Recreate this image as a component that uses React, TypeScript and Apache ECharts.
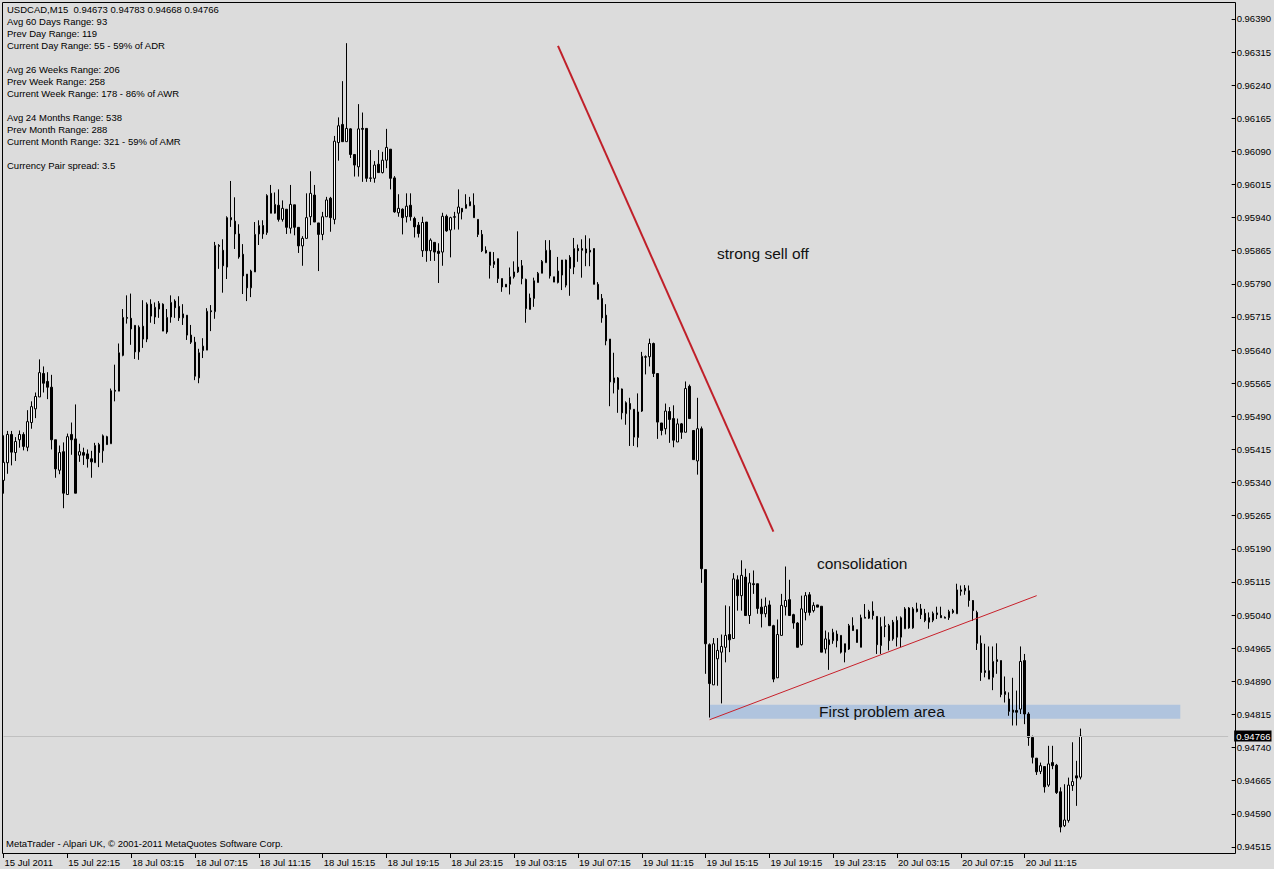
import React, { useEffect, useRef } from "react";
import * as echarts from "echarts";

// ---- data (USDCAD M15), [open, high, low, close] ----
const candles: number[][] = [
  [0.95345, 0.95447, 0.95315, 0.95386], [0.95385, 0.95457, 0.9536, 0.95449], [0.95449, 0.95457, 0.95379, 0.95409],
  [0.95408, 0.95443, 0.95389, 0.95433], [0.95437, 0.95458, 0.95419, 0.95449], [0.95449, 0.95454, 0.95413, 0.95422],
  [0.9542, 0.95504, 0.95411, 0.95478], [0.95476, 0.95524, 0.95462, 0.95512], [0.95507, 0.95544, 0.95486, 0.95535],
  [0.95534, 0.95619, 0.95534, 0.95589], [0.95587, 0.95603, 0.95544, 0.95565], [0.95569, 0.9559, 0.95529, 0.95556],
  [0.95556, 0.95584, 0.95415, 0.95437], [0.95437, 0.95437, 0.95351, 0.95371], [0.95368, 0.95424, 0.95359, 0.95408],
  [0.9541, 0.95431, 0.95282, 0.95316], [0.95313, 0.95451, 0.95313, 0.95444], [0.95449, 0.95476, 0.95403, 0.95437],
  [0.95439, 0.95517, 0.95316, 0.95316], [0.95402, 0.95428, 0.95387, 0.9541], [0.95408, 0.95419, 0.9538, 0.95402],
  [0.95405, 0.95415, 0.95374, 0.95394], [0.95394, 0.95412, 0.95351, 0.95387], [0.95385, 0.9543, 0.95385, 0.95424],
  [0.95426, 0.9543, 0.95375, 0.95408], [0.95412, 0.95449, 0.95385, 0.95446], [0.95444, 0.95446, 0.95426, 0.95426],
  [0.95428, 0.95553, 0.95428, 0.95548], [0.95549, 0.95607, 0.95524, 0.95547], [0.95547, 0.95655, 0.95547, 0.95634],
  [0.95628, 0.95733, 0.95626, 0.95714], [0.95714, 0.95764, 0.957, 0.95712], [0.95712, 0.95768, 0.95652, 0.95688],
  [0.95696, 0.95696, 0.9562, 0.95636], [0.95636, 0.95696, 0.95618, 0.95692], [0.95694, 0.95753, 0.95645, 0.95665],
  [0.95665, 0.95748, 0.95658, 0.95744], [0.95744, 0.95755, 0.95702, 0.95717], [0.95715, 0.95748, 0.95699, 0.95737],
  [0.95733, 0.95751, 0.95713, 0.95746], [0.95744, 0.95746, 0.95683, 0.95683], [0.95681, 0.95733, 0.95677, 0.95714],
  [0.95715, 0.95764, 0.95702, 0.95748], [0.95751, 0.95755, 0.95713, 0.95736], [0.95739, 0.95762, 0.95706, 0.95713],
  [0.95713, 0.95744, 0.95697, 0.95722], [0.95719, 0.95719, 0.95663, 0.95674], [0.95674, 0.95697, 0.95654, 0.95658],
  [0.95658, 0.9567, 0.95572, 0.95581], [0.95577, 0.95643, 0.95565, 0.95634], [0.95639, 0.95667, 0.95622, 0.95649],
  [0.9564, 0.95735, 0.9564, 0.95728], [0.95729, 0.95742, 0.95683, 0.95727], [0.95727, 0.95885, 0.95711, 0.95877],
  [0.95877, 0.9588, 0.95824, 0.95875], [0.95866, 0.95891, 0.9577, 0.95831], [0.95828, 0.95943, 0.95801, 0.9594],
  [0.9594, 0.96023, 0.95919, 0.95935], [0.95932, 0.95986, 0.95869, 0.95903], [0.95903, 0.95925, 0.95847, 0.95851],
  [0.95857, 0.9588, 0.95767, 0.95808], [0.95812, 0.95812, 0.95751, 0.95781], [0.95781, 0.95822, 0.9576, 0.95819],
  [0.95817, 0.9593, 0.95817, 0.95902], [0.95903, 0.95934, 0.95878, 0.95922], [0.95922, 0.95934, 0.95892, 0.95903],
  [0.95906, 0.95993, 0.95901, 0.9599], [0.95995, 0.96014, 0.9595, 0.9595], [0.9595, 0.95997, 0.95949, 0.9597],
  [0.95968, 0.96004, 0.95931, 0.95936], [0.95936, 0.95979, 0.95931, 0.95961], [0.95959, 0.95959, 0.95903, 0.95918],
  [0.95916, 0.96014, 0.95904, 0.9597], [0.95969, 0.95969, 0.959, 0.95918], [0.95918, 0.95918, 0.9586, 0.95876],
  [0.95876, 0.95898, 0.95831, 0.95893], [0.95893, 0.95995, 0.95893, 0.9594], [0.95942, 0.96045, 0.95923, 0.95995],
  [0.95991, 0.96014, 0.9593, 0.9593], [0.95928, 0.95928, 0.95819, 0.95902], [0.95902, 0.95953, 0.95889, 0.95942],
  [0.95942, 0.95987, 0.95942, 0.9598], [0.95984, 0.95987, 0.95908, 0.9594], [0.95936, 0.96125, 0.95925, 0.96113],
  [0.9611, 0.96167, 0.96069, 0.96148], [0.96151, 0.96249, 0.96112, 0.96112], [0.96112, 0.96335, 0.96112, 0.96142],
  [0.96141, 0.96142, 0.96075, 0.96083], [0.96083, 0.96083, 0.96033, 0.96059], [0.96055, 0.96197, 0.96033, 0.96141],
  [0.96142, 0.96178, 0.96021, 0.9614], [0.96142, 0.96142, 0.96021, 0.96029], [0.9603, 0.96093, 0.96021, 0.96029],
  [0.96029, 0.96068, 0.96019, 0.96059], [0.96061, 0.96093, 0.96042, 0.96042], [0.96042, 0.96089, 0.9604, 0.9607],
  [0.9607, 0.96141, 0.96052, 0.96099], [0.96095, 0.96095, 0.96004, 0.96029], [0.9603, 0.96034, 0.95951, 0.95953],
  [0.95951, 0.95993, 0.95942, 0.95961], [0.95959, 0.95961, 0.95902, 0.9594], [0.95942, 0.95995, 0.95929, 0.95966],
  [0.95968, 0.95995, 0.95933, 0.95942], [0.95938, 0.95942, 0.95895, 0.95919], [0.95923, 0.9593, 0.95895, 0.95904],
  [0.95865, 0.95942, 0.95851, 0.95929], [0.9593, 0.9593, 0.9584, 0.95865], [0.95865, 0.95893, 0.95842, 0.95889],
  [0.95884, 0.95884, 0.95842, 0.95862], [0.95864, 0.95882, 0.95792, 0.95859], [0.95862, 0.95951, 0.95831, 0.95943],
  [0.95943, 0.95947, 0.95908, 0.9591], [0.95912, 0.95942, 0.9585, 0.9594], [0.95942, 0.95953, 0.95913, 0.95941],
  [0.9595, 0.96004, 0.95913, 0.95964], [0.95961, 0.95961, 0.95936, 0.95953], [0.95961, 0.95993, 0.95961, 0.9597],
  [0.95976, 0.95987, 0.95966, 0.95967], [0.95968, 0.95995, 0.9594, 0.9594], [0.95936, 0.95936, 0.95896, 0.95902],
  [0.95902, 0.95912, 0.95862, 0.95865], [0.95866, 0.95875, 0.95859, 0.9586], [0.95862, 0.95862, 0.95802, 0.95832],
  [0.95834, 0.95862, 0.95826, 0.95841], [0.95847, 0.95847, 0.95792, 0.95802], [0.95802, 0.95802, 0.95772, 0.95783],
  [0.95789, 0.95789, 0.95783, 0.95783], [0.95789, 0.95827, 0.95766, 0.95806], [0.95806, 0.95841, 0.95802, 0.95817],
  [0.95817, 0.95909, 0.95815, 0.95828], [0.95831, 0.95844, 0.95789, 0.95802], [0.958, 0.95802, 0.95702, 0.95734],
  [0.95732, 0.95768, 0.95732, 0.95758], [0.95757, 0.95804, 0.95738, 0.95797], [0.95793, 0.95817, 0.95793, 0.95814],
  [0.95814, 0.95844, 0.95814, 0.95841], [0.95838, 0.95889, 0.95838, 0.95866], [0.95866, 0.95889, 0.95802, 0.95808],
  [0.95806, 0.95806, 0.95794, 0.95794], [0.95793, 0.95851, 0.95791, 0.95819], [0.95844, 0.95844, 0.95776, 0.9581],
  [0.95787, 0.95845, 0.95782, 0.95844], [0.9585, 0.95855, 0.95763, 0.95825], [0.95828, 0.95894, 0.95812, 0.9587],
  [0.9587, 0.95879, 0.9584, 0.95865], [0.9587, 0.95891, 0.95804, 0.95866], [0.95869, 0.959, 0.9583, 0.9586],
  [0.95866, 0.95893, 0.9583, 0.95862], [0.9587, 0.9587, 0.95789, 0.95789], [0.95789, 0.95794, 0.95755, 0.95755],
  [0.95757, 0.95767, 0.95702, 0.95713], [0.95719, 0.95744, 0.95651, 0.95661], [0.95665, 0.95665, 0.95513, 0.95568],
  [0.95566, 0.95634, 0.95542, 0.95577], [0.95577, 0.95579, 0.95498, 0.95551], [0.95552, 0.95553, 0.95483, 0.95498],
  [0.95496, 0.95524, 0.95471, 0.95521], [0.95519, 0.95532, 0.95423, 0.95506], [0.95506, 0.95506, 0.95423, 0.95443],
  [0.95442, 0.95542, 0.9542, 0.955], [0.95502, 0.95636, 0.955, 0.95626], [0.95625, 0.95628, 0.95585, 0.95624],
  [0.95625, 0.95666, 0.95603, 0.95655], [0.95655, 0.95657, 0.95579, 0.95587], [0.95587, 0.95587, 0.95439, 0.95477],
  [0.95475, 0.95475, 0.95447, 0.95458], [0.95462, 0.95519, 0.95449, 0.95502], [0.95501, 0.95511, 0.9543, 0.95483],
  [0.95485, 0.95515, 0.9542, 0.95436], [0.95432, 0.95485, 0.95432, 0.95473], [0.95473, 0.95475, 0.95439, 0.95454],
  [0.95454, 0.95569, 0.95454, 0.95553], [0.95558, 0.95562, 0.95485, 0.95485], [0.95458, 0.95458, 0.95392, 0.95392],
  [0.95389, 0.95532, 0.95358, 0.95462], [0.95462, 0.95467, 0.95113, 0.95145], [0.95143, 0.95143, 0.94907, 0.94975],
  [0.94973, 0.94976, 0.94808, 0.94885], [0.94882, 0.94988, 0.94882, 0.94975], [0.94941, 0.94988, 0.9488, 0.9496],
  [0.94956, 0.94996, 0.9484, 0.94969], [0.94967, 0.95062, 0.94933, 0.94994], [0.94996, 0.9506, 0.94956, 0.94984],
  [0.94987, 0.95135, 0.94987, 0.95122], [0.9512, 0.9513, 0.9505, 0.95084], [0.95084, 0.95164, 0.9505, 0.9513],
  [0.95126, 0.95145, 0.95039, 0.95039], [0.95039, 0.95135, 0.9502, 0.95113], [0.95111, 0.95141, 0.95088, 0.95109],
  [0.95111, 0.95111, 0.95043, 0.95055], [0.95058, 0.95077, 0.95012, 0.95043], [0.95043, 0.9508, 0.95035, 0.9506],
  [0.95063, 0.95073, 0.95016, 0.95016], [0.95016, 0.95018, 0.94888, 0.94895], [0.94898, 0.9503, 0.94898, 0.94996],
  [0.94994, 0.95088, 0.94994, 0.95062], [0.95059, 0.9515, 0.95039, 0.95073], [0.95075, 0.9512, 0.95039, 0.95039],
  [0.95041, 0.95043, 0.95009, 0.95022], [0.95022, 0.95024, 0.94967, 0.94967], [0.94973, 0.95084, 0.94971, 0.95054],
  [0.95046, 0.95092, 0.95028, 0.95084], [0.95086, 0.95092, 0.95039, 0.95046], [0.9505, 0.95069, 0.95046, 0.95062],
  [0.95063, 0.95063, 0.95058, 0.95058], [0.9506, 0.9506, 0.94956, 0.94956], [0.94963, 0.95005, 0.94953, 0.94986],
  [0.94984, 0.95001, 0.94916, 0.94973], [0.94982, 0.95009, 0.94975, 0.95001], [0.94997, 0.95005, 0.94967, 0.94982],
  [0.94994, 0.94994, 0.94953, 0.94956], [0.94975, 0.94975, 0.94933, 0.94956], [0.94963, 0.9502, 0.94961, 0.95016],
  [0.95016, 0.95035, 0.95005, 0.95005], [0.95007, 0.95007, 0.94978, 0.94978], [0.94967, 0.95041, 0.94967, 0.95034],
  [0.95035, 0.95065, 0.95033, 0.95033], [0.95033, 0.95052, 0.95031, 0.95048], [0.95049, 0.95071, 0.9503, 0.95039],
  [0.95037, 0.95037, 0.94952, 0.94973], [0.94971, 0.95035, 0.94952, 0.95014], [0.95016, 0.95037, 0.9499, 0.95014],
  [0.95016, 0.9502, 0.9496, 0.94982], [0.94986, 0.95029, 0.94982, 0.95024], [0.95028, 0.95037, 0.94969, 0.9499],
  [0.9499, 0.95037, 0.94967, 0.95034], [0.95009, 0.95058, 0.95009, 0.95054], [0.95056, 0.95058, 0.95009, 0.95011],
  [0.95011, 0.95058, 0.95009, 0.95054], [0.95054, 0.95068, 0.95046, 0.95048], [0.95054, 0.95065, 0.95031, 0.95041],
  [0.95044, 0.95054, 0.95024, 0.95028], [0.95034, 0.95046, 0.95009, 0.95024], [0.95028, 0.95048, 0.95024, 0.95044],
  [0.95045, 0.95059, 0.95031, 0.95041], [0.95039, 0.95059, 0.95034, 0.95034], [0.95035, 0.95037, 0.95033, 0.95033],
  [0.95034, 0.95052, 0.95029, 0.95048], [0.9505, 0.95054, 0.95043, 0.95046], [0.95043, 0.95111, 0.95043, 0.95097],
  [0.95097, 0.95107, 0.95084, 0.95094], [0.95095, 0.95108, 0.95086, 0.95101], [0.95095, 0.95107, 0.95059, 0.95073],
  [0.95073, 0.95074, 0.95027, 0.9505], [0.95046, 0.9505, 0.94961, 0.94976], [0.94976, 0.94994, 0.94891, 0.9491],
  [0.94914, 0.94975, 0.94899, 0.9491], [0.94914, 0.94969, 0.94895, 0.94895], [0.94899, 0.94969, 0.9487, 0.94935],
  [0.94939, 0.94976, 0.94907, 0.94935], [0.94937, 0.94937, 0.94854, 0.9486], [0.9486, 0.94901, 0.94842, 0.94867],
  [0.9485, 0.94865, 0.94812, 0.94822], [0.94825, 0.94898, 0.9479, 0.9482], [0.94824, 0.94869, 0.9479, 0.9482],
  [0.94827, 0.94969, 0.94816, 0.94935], [0.94937, 0.94952, 0.94793, 0.94816], [0.94816, 0.9482, 0.94744, 0.94763],
  [0.94763, 0.94767, 0.94704, 0.94718], [0.94716, 0.94716, 0.94678, 0.94685], [0.94686, 0.94706, 0.9468, 0.94699],
  [0.94697, 0.94697, 0.94638, 0.94651], [0.94655, 0.94744, 0.94651, 0.94703], [0.94706, 0.94744, 0.94691, 0.94699],
  [0.947, 0.94703, 0.94635, 0.94638], [0.9464, 0.9465, 0.94548, 0.9456], [0.94563, 0.94657, 0.9456, 0.94576],
  [0.94575, 0.94672, 0.9457, 0.94655], [0.94654, 0.94752, 0.94642, 0.94663], [0.94676, 0.9471, 0.94608, 0.94671],
  [0.94673, 0.94783, 0.94668, 0.94766],
];

const totalSlots = 308; // bar slots across the chart window (incl. empty right margin)
const barsPerLabel = 16;
const timeLabels = [
  "15 Jul 2011", "15 Jul 22:15", "18 Jul 03:15", "18 Jul 07:15", "18 Jul 11:15", "18 Jul 15:15",
  "18 Jul 19:15", "18 Jul 23:15", "19 Jul 03:15", "19 Jul 07:15", "19 Jul 11:15", "19 Jul 15:15",
  "19 Jul 19:15", "19 Jul 23:15", "20 Jul 03:15", "20 Jul 07:15", "20 Jul 11:15",
];
const priceTicks = [
  0.94515, 0.9459, 0.94665, 0.9474, 0.94815, 0.9489, 0.94965, 0.9504, 0.95115, 0.9519, 0.95265, 0.9534, 0.95415,
  0.9549, 0.95565, 0.9564, 0.95715, 0.9579, 0.95865, 0.9594, 0.96015, 0.9609, 0.96165, 0.9624, 0.96315, 0.9639,
];
const priceMin = 0.94499;
const priceMax = 0.96426;
const lastPrice = 0.94766;

const sellOffLine = [[139, 0.96329], [193, 0.95229]];
const supportLine = [[177, 0.94803], [259, 0.95084]];
const problemArea = [[177, 0.94837], [295, 0.94805]];

const headerLines = [
  "USDCAD,M15  0.94673 0.94783 0.94668 0.94766",
  "Avg 60 Days Range: 93",
  "Prev Day Range: 119",
  "Current Day Range: 55 - 59% of ADR",
  "",
  "Avg 26 Weeks Range: 206",
  "Prev Week Range: 258",
  "Current Week Range: 178 - 86% of AWR",
  "",
  "Avg 24 Months Range: 538",
  "Prev Month Range: 288",
  "Current Month Range: 321 - 59% of AMR",
  "",
  "Currency Pair spread: 3.5",
];
const footerText = "MetaTrader - Alpari UK, \u00a9 2001-2011 MetaQuotes Software Corp.";
const notes = [
  { text: "strong sell off", x: 717, y: 253 },
  { text: "consolidation", x: 817, y: 563 },
  { text: "First problem area", x: 819, y: 711 },
];

const FONT = "'Liberation Sans', Arial, sans-serif";
const BG = "#dcdcdc";

export default function App() {
  const ref = useRef<HTMLDivElement>(null);

  useEffect(() => {
    if (!ref.current) return;
    const chart = echarts.init(ref.current, undefined, { renderer: "svg" });
    const slots = Array.from({ length: totalSlots }, (_, i) => String(i));
    const labelAt = (i: number) => i % barsPerLabel === 0 && i / barsPerLabel < timeLabels.length;

    const graphics: any[] = [];
    headerLines.forEach((t, k) => {
      if (!t) return;
      graphics.push({
        type: "text", x: 7, y: 9 + 12 * k, z: 50,
        style: { text: t, fill: "#000", fontSize: 9.5, fontFamily: FONT, verticalAlign: "middle", align: "left" },
      });
    });
    graphics.push({
      type: "text", x: 6, y: 843, z: 50,
      style: { text: footerText, fill: "#000", fontSize: 9.5, fontFamily: FONT, verticalAlign: "middle", align: "left" },
    });
    notes.forEach((n) => {
      graphics.push({
        type: "text", x: n.x, y: n.y, z: 50,
        style: { text: n.text, fill: "#111", fontSize: 15.5, fontFamily: FONT, verticalAlign: "middle", align: "left" },
      });
    });
    graphics.push({
      type: "rect", z: 60, silent: true,
      shape: { x: 2.5, y: 2.5, width: 1233, height: 851 },
      style: { fill: "none", stroke: "#000", lineWidth: 1 },
    });

    chart.setOption({
      animation: false,
      backgroundColor: BG,
      grid: { left: 1.5, right: 40.5, top: 3, bottom: 15 },
      xAxis: {
        type: "category",
        data: slots,
        boundaryGap: true,
        axisLine: { show: false },
        axisTick: {
          show: true, alignWithLabel: true, length: 4,
          interval: (i: number) => labelAt(i),
          lineStyle: { color: "#000", width: 1 },
        },
        axisLabel: {
          interval: (i: number) => labelAt(i),
          formatter: (_v: string, i: number) => (labelAt(i) ? timeLabels[i / barsPerLabel] : ""),
          align: "left",
          margin: 3,
          padding: [0, 0, 0, 1],
          color: "#000",
          fontSize: 9.5,
          fontFamily: FONT,
        },
        splitLine: { show: false },
      },
      yAxis: {
        type: "value",
        position: "right",
        offset: 1.5,
        min: priceMin,
        max: priceMax,
        scale: true,
        axisLine: { show: false },
        axisTick: { show: true, length: 4, customValues: priceTicks, lineStyle: { color: "#000" } },
        axisLabel: {
          customValues: priceTicks,
          formatter: (v: number) => v.toFixed(5),
          margin: 5,
          color: "#000",
          fontSize: 9.5,
          fontFamily: FONT,
        },
        splitLine: { show: false },
      },
      series: [
        {
          type: "candlestick",
          barWidth: 2,
          data: candles.map(([o, h, l, c]) => [o, c, l, h]),
          itemStyle: {
            color: "#ffffff",
            color0: "#000000",
            borderColor: "#000000",
            borderColor0: "#000000",
            borderWidth: 1,
          },
          markArea: {
            silent: true,
            itemStyle: { color: "#b0c4de", opacity: 1 },
            data: [[{ coord: problemArea[0] }, { coord: problemArea[1] }]],
          },
          markLine: {
            silent: true,
            symbol: ["none", "none"],
            label: { show: false },
            data: [
              [
                {
                  coord: [0, lastPrice],
                  lineStyle: { color: "#c0c0c0", width: 1, type: "solid" },
                  label: {
                    show: true, position: "end", distance: 6,
                    formatter: lastPrice.toFixed(5),
                    color: "#fff", backgroundColor: "#000", padding: [1, 1, 0, 2],
                    fontSize: 9.5, fontFamily: FONT,
                  },
                },
                { coord: [totalSlots - 1, lastPrice] },
              ],
              [
                { coord: sellOffLine[0], lineStyle: { color: "#c0202a", width: 2, type: "solid" } },
                { coord: sellOffLine[1] },
              ],
              [
                { coord: supportLine[0], lineStyle: { color: "#c8202a", width: 1, type: "solid" } },
                { coord: supportLine[1] },
              ],
            ],
          },
        },
      ],
      graphic: graphics,
    });
    return () => chart.dispose();
  }, []);

  return (
    <div
      ref={ref}
      style={{ position: "fixed", left: 0, top: 0, width: 1274, height: 869, background: BG }}
    />
  );
}
